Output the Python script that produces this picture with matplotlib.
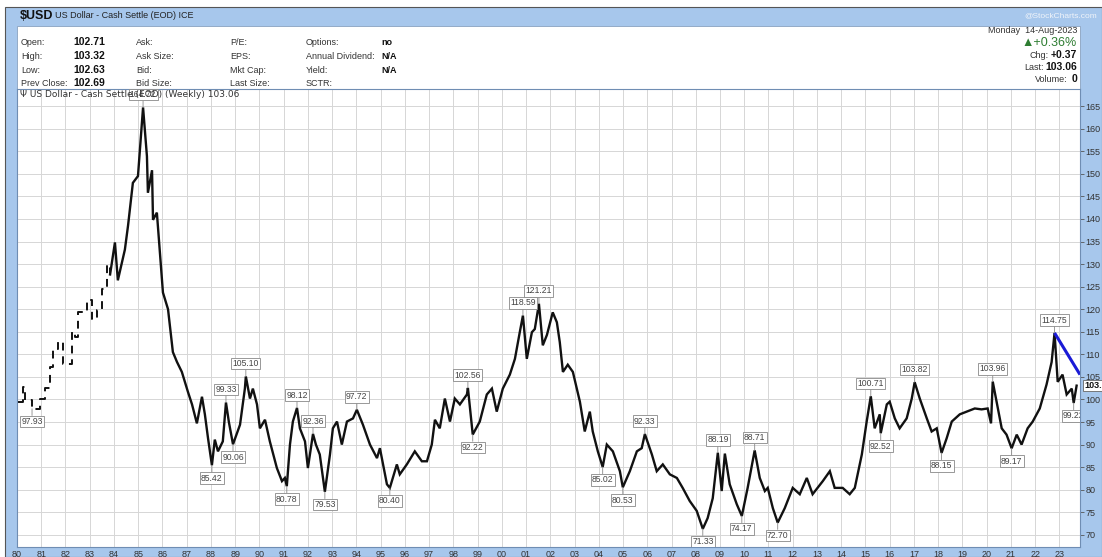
import matplotlib.pyplot as plt
from matplotlib.patches import Rectangle

W, H = 1102, 557

# weekly close path of $USD (decimal year, value)
years = [1980.04, 1980.25, 1980.33, 1980.62, 1980.95, 1981.15, 1981.36, 1981.48, 1981.69, 1981.90,
         1982.27, 1982.39, 1982.52, 1982.89, 1983.09, 1983.30, 1983.51, 1983.71, 1983.84, 1984.04,
         1984.16, 1984.45, 1984.58, 1984.78, 1984.99, 1985.15, 1985.20, 1985.36, 1985.40, 1985.57,
         1985.61, 1985.77, 1986.02, 1986.23, 1986.43, 1986.60, 1986.80, 1987.05, 1987.22, 1987.42,
         1987.63, 1987.75, 1987.88, 1988.04, 1988.16, 1988.29, 1988.49, 1988.62, 1988.74, 1988.91,
         1989.20, 1989.40, 1989.44, 1989.61, 1989.73, 1989.90, 1990.02, 1990.23, 1990.43, 1990.72,
         1990.93, 1991.05, 1991.13, 1991.26, 1991.38, 1991.55, 1991.67, 1991.88, 1992.00, 1992.21,
         1992.33, 1992.49, 1992.70, 1992.91, 1993.03, 1993.20, 1993.40, 1993.61, 1993.86, 1994.02,
         1994.27, 1994.56, 1994.85, 1994.97, 1995.26, 1995.38, 1995.67, 1995.79, 1996.08, 1996.41,
         1996.70, 1996.91, 1997.11, 1997.24, 1997.44, 1997.65, 1997.86, 1998.06, 1998.27, 1998.56,
         1998.60, 1998.80, 1999.09, 1999.38, 1999.59, 1999.79, 2000.04, 2000.33, 2000.54, 2000.74,
         2000.87, 2001.03, 2001.24, 2001.36, 2001.53, 2001.69, 2001.86, 2002.10, 2002.27, 2002.39,
         2002.52, 2002.72, 2002.93, 2003.22, 2003.42, 2003.63, 2003.75, 2003.96, 2004.16, 2004.33,
         2004.58, 2004.87, 2004.99, 2005.28, 2005.57, 2005.77, 2005.90, 2006.19, 2006.39, 2006.64,
         2006.93, 2007.22, 2007.46, 2007.75, 2008.04, 2008.29, 2008.49, 2008.70, 2008.91, 2009.07,
         2009.20, 2009.40, 2009.69, 2009.90, 2010.14, 2010.43, 2010.64, 2010.85, 2010.97, 2011.18,
         2011.38, 2011.67, 2012.00, 2012.29, 2012.58, 2012.82, 2013.24, 2013.53, 2013.73, 2014.06,
         2014.35, 2014.56, 2014.85, 2015.05, 2015.22, 2015.38, 2015.59, 2015.63, 2015.88, 2016.00,
         2016.21, 2016.41, 2016.70, 2016.91, 2017.03, 2017.24, 2017.53, 2017.73, 2017.94, 2018.14,
         2018.35, 2018.56, 2018.89, 2019.18, 2019.51, 2019.79, 2020.04, 2020.18, 2020.25, 2020.41,
         2020.62, 2020.82, 2021.03, 2021.24, 2021.44, 2021.69, 2021.90, 2022.19, 2022.47, 2022.68,
         2022.80, 2022.93, 2023.13, 2023.30, 2023.51, 2023.59, 2023.71]
values = [99.5, 102.8, 99.8, 97.93, 100.2, 102.6, 107.2, 111.2, 112.7, 107.9,
          115.0, 113.8, 119.3, 122.0, 117.8, 119.8, 124.4, 129.7, 127.7, 134.8,
          126.4, 133.2, 138.5, 148.0, 149.5, 161.2, 164.72, 153.9, 145.8, 150.8,
          139.8, 141.4, 123.7, 120.0, 110.5, 108.3, 106.1, 101.7, 98.9, 94.7,
          100.6, 96.7, 91.4, 85.42, 91.1, 88.5, 90.7, 99.33, 95.0, 90.06,
          94.4, 102.4, 105.10, 100.2, 102.4, 98.9, 93.6, 95.5, 90.7, 84.8,
          81.9, 82.6, 80.78, 90.0, 95.1, 98.12, 93.6, 90.7, 84.8, 92.36,
          90.0, 87.8, 79.53, 87.8, 93.6, 95.1, 90.0, 95.1, 95.8, 97.72,
          94.4, 90.0, 87.0, 89.2, 81.2, 80.40, 85.6, 83.4, 85.6, 88.5,
          86.3, 86.3, 90.0, 95.5, 93.6, 100.2, 95.1, 100.2, 98.9, 101.1,
          102.56, 92.22, 95.1, 101.1, 102.4, 97.3, 102.4, 105.5, 109.0, 114.9,
          118.59, 109.0, 114.9, 115.6, 121.21, 112.0, 114.3, 119.3, 117.1, 112.7,
          106.1, 107.7, 106.1, 99.5, 92.9, 97.3, 92.9, 88.5, 85.02, 90.0,
          88.5, 84.1, 80.53, 84.1, 88.5, 89.2, 92.33, 87.8, 84.1, 85.6,
          83.4, 82.6, 80.4, 77.5, 75.3, 71.33, 73.7, 78.1, 88.19, 79.7,
          88.0, 81.2, 76.8, 74.17, 80.4, 88.71, 82.6, 79.7, 80.4, 75.9,
          72.70, 75.9, 80.4, 79.0, 82.6, 79.0, 81.9, 84.1, 80.4, 80.4,
          79.0, 80.4, 87.8, 95.1, 100.71, 93.6, 96.7, 92.52, 98.9, 99.5,
          95.8, 93.6, 95.8, 100.2, 103.82, 100.2, 95.8, 92.9, 93.6, 88.15,
          91.4, 95.1, 96.7, 97.3, 98.0, 97.8, 98.0, 94.7, 103.96, 99.5,
          93.6, 92.2, 89.17, 92.2, 90.0, 93.6, 95.1, 98.0, 103.3, 108.3,
          114.75, 103.9, 105.5, 101.1, 102.4, 99.22, 103.06]

# peak / trough annotations
label_years = [1980.62, 1985.20, 1988.04, 1988.62, 1988.91, 1989.44, 1991.13, 1991.55, 1992.21,
               1992.70, 1994.02, 1995.38, 1998.60, 1998.80, 2000.87, 2001.53, 2004.16, 2004.99,
               2005.90, 2008.29, 2008.91, 2009.90, 2010.43, 2011.38, 2015.22, 2015.63, 2017.03,
               2018.14, 2020.25, 2021.03, 2022.80, 2023.59]
label_values = [97.93, 164.72, 85.42, 99.33, 90.06, 105.10, 80.78, 98.12, 92.36,
                79.53, 97.72, 80.40, 102.56, 92.22, 118.59, 121.21, 85.02, 80.53,
                92.33, 71.33, 88.19, 74.17, 88.71, 72.70, 100.71, 92.52, 103.82,
                88.15, 103.96, 89.17, 114.75, 99.22]
label_side = ['low', 'high', 'low', 'high', 'low', 'high', 'low', 'high', 'high',
              'low', 'high', 'low', 'high', 'low', 'high', 'high', 'low', 'low',
              'high', 'low', 'high', 'low', 'high', 'low', 'high', 'low', 'high',
              'low', 'high', 'low', 'high', 'low']

trend_years = [2022.80, 2023.85]
trend_values = [114.75, 105.5]

last_close = 103.06
year_ticks = list(range(1980, 2024))
price_ticks = list(range(70, 166, 5))

blue = '#a7c7ec'
txt = '#333333'
plt.rcParams['font.family'] = ['Liberation Sans', 'DejaVu Sans']

fig = plt.figure(figsize=(W / 100, H / 100), dpi=100)
fig.patch.set_facecolor('white')


def fx(px):
    return px / W


def fy(py):
    return 1 - py / H


# frame, header strip and info panel (behind the chart axes)
fig.patches.append(Rectangle((fx(5), 0), 1 - fx(5), fy(7), transform=fig.transFigure,
                             fc=blue, ec='#555555', lw=0.8, zorder=-10))
fig.patches.append(Rectangle((fx(17), fy(89)), fx(1063), 63 / H, transform=fig.transFigure,
                             fc='white', ec='#8aa2c0', lw=0.6, zorder=-9))

fig.text(fx(20), fy(16), '$USD', fontsize=9, fontweight='bold', color='#111', va='center')
fig.text(fx(55), fy(16), 'US Dollar - Cash Settle (EOD) ICE', fontsize=6.5, color='#222', va='center')
fig.text(fx(1097), fy(16), '@StockCharts.com', fontsize=6, color='#f0f4fa', ha='right', va='center')

rows = [45, 59, 73, 86]
col1 = [('Open:', '102.71'), ('High:', '103.32'), ('Low:', '102.63'), ('Prev Close:', '102.69')]
for y, (k, v) in zip(rows, col1):
    fig.text(fx(21), fy(y), k, fontsize=6.5, color=txt, va='baseline')
    fig.text(fx(73), fy(y), v, fontsize=7.5, fontweight='bold', color='#111', va='baseline')
for y, k in zip(rows, ['Ask:', 'Ask Size:', 'Bid:', 'Bid Size:']):
    fig.text(fx(136), fy(y), k, fontsize=6.5, color=txt, va='baseline')
for y, k in zip(rows, ['P/E:', 'EPS:', 'Mkt Cap:', 'Last Size:']):
    fig.text(fx(230), fy(y), k, fontsize=6.5, color=txt, va='baseline')
for y, k in zip(rows, ['Options:', 'Annual Dividend:', 'Yield:', 'SCTR:']):
    fig.text(fx(306), fy(y), k, fontsize=6.5, color=txt, va='baseline')
for y, v in zip(rows[:3], ['no', 'N/A', 'N/A']):
    fig.text(fx(381), fy(y), v, fontsize=6.5, fontweight='bold', color='#111', va='baseline')

fig.text(fx(1077), fy(33), 'Monday  14-Aug-2023', fontsize=6.5, color=txt, ha='right', va='baseline')
fig.text(fx(1077), fy(46), '\u25b2+0.36%', fontsize=9, color='#2e7d32', ha='right', va='baseline')
side_rows = [(58, 'Chg:', '+0.37', 1049), (70, 'Last:', '103.06', 1044), (82, 'Volume:', '0', 1068)]
for y, k, v, kx in side_rows:
    fig.text(fx(kx), fy(y), k, fontsize=6.5, color=txt, ha='right', va='baseline')
    fig.text(fx(1077), fy(y), v, fontsize=7.5, fontweight='bold', color='#111', ha='right', va='baseline')

# chart panel
ax = fig.add_axes([fx(17), 1 - 547 / H, fx(1063), (547 - 89) / H])
ax.set_facecolor('white')
ax.set_xlim(1980.0, 2023.85)
ax.set_ylim(67.3, 168.8)
ax.set_xticks(year_ticks)
ax.set_xticklabels(['%02d' % (y % 100) for y in year_ticks])
ax.set_yticks(price_ticks)
ax.yaxis.tick_right()
ax.tick_params(axis='x', length=0, pad=2, labelsize=6.5, labelcolor=txt)
ax.tick_params(axis='y', length=3, width=0.6, color='#555', pad=1, labelsize=6.5, labelcolor=txt)
ax.grid(True, color='#d6d6d6', lw=0.7)
ax.set_axisbelow(True)
for s in ax.spines.values():
    s.set_color('#6f8db3')
    s.set_linewidth(0.8)

# early data is sparse: draw it as broken steps
early = [i for i, y in enumerate(years) if y < 1984.0]
late = [i for i, y in enumerate(years) if y >= 1983.84]
ax.plot([years[i] for i in early], [values[i] for i in early], color='#111', lw=1.4,
        drawstyle='steps-post', ls=(0, (4, 3)))
ax.plot([years[i] for i in late], [values[i] for i in late], color='#111', lw=1.7,
        solid_joinstyle='miter')

ax.plot(trend_years, trend_values, color='#1a1ad6', lw=2.2, solid_capstyle='butt')

for x, v, side in zip(label_years, label_values, label_side):
    dy = 6 if side == 'high' else -6
    ax.annotate('%.2f' % v, xy=(x, v), xytext=(0, dy), textcoords='offset points',
                ha='center', va='bottom' if side == 'high' else 'top',
                fontsize=6.2, color='#444', clip_on=True,
                bbox=dict(boxstyle='square,pad=0.15', fc='white', ec='#888', lw=0.6),
                arrowprops=dict(arrowstyle='-', color='#888', lw=0.6, shrinkA=0, shrinkB=0))

ax.text(0.003, 0.997, '\u03a8 US Dollar - Cash Settle (EOD) (Weekly) 103.06', transform=ax.transAxes,
        ha='left', va='top', fontsize=6.5, color=txt, family='DejaVu Sans')

ax.annotate('%.2f' % last_close, xy=(1.0, last_close), xycoords=('axes fraction', 'data'),
            xytext=(3, 0), textcoords='offset points', ha='left', va='center',
            fontsize=6.5, fontweight='bold', color='#111', annotation_clip=False,
            bbox=dict(boxstyle='square,pad=0.15', fc='white', ec='#666', lw=0.6))

fig.savefig('out.png', dpi=100)
